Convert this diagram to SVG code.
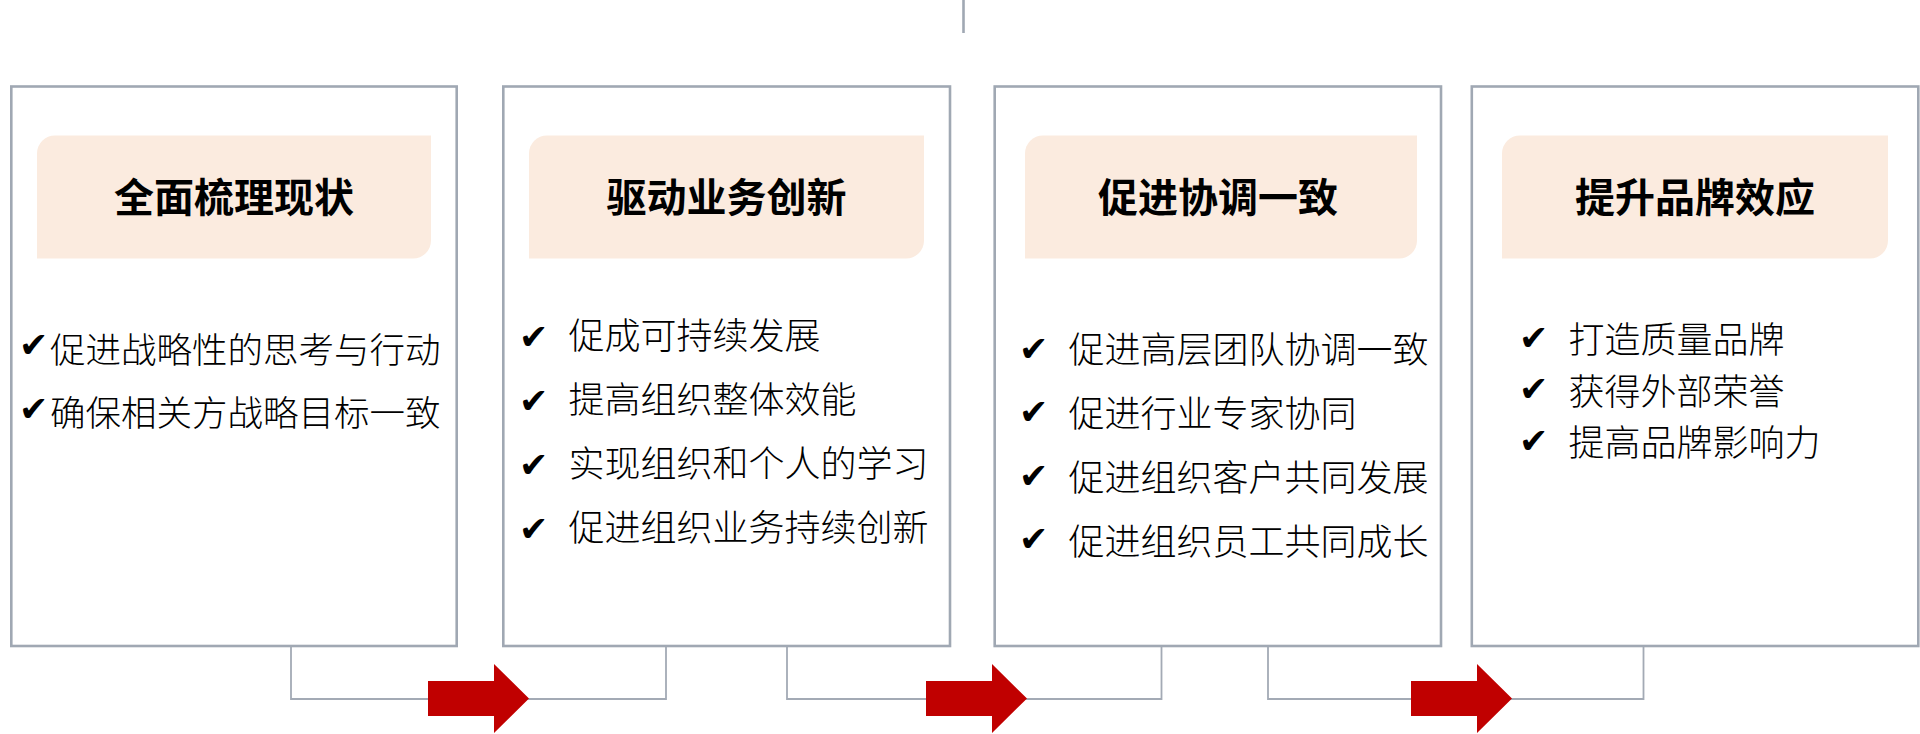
<svg xmlns="http://www.w3.org/2000/svg" width="1920" height="734" viewBox="0 0 1920 734">
<style>
.box{fill:#FFFFFF;stroke:#A0A8B3;stroke-width:2.6}
.band{fill:#FBEBDF}
.title{font-family:"Noto Sans CJK SC","Noto Sans",sans-serif;font-weight:700;font-size:40px;fill:#000;text-anchor:middle}
.item{font-family:"Noto Sans CJK SC","Noto Sans",sans-serif;font-weight:300;font-size:36px;fill:#000}
.chk{font-family:"DejaVu Sans",sans-serif;font-size:35px;fill:#000}
.conn{fill:none;stroke:#A3AAB5;stroke-width:1.8}
.arrow{fill:#C00000}
</style>
<rect width="1920" height="734" fill="#FFFFFF"/>
<line x1="963.5" y1="0" x2="963.5" y2="33" stroke="#A0A8B3" stroke-width="2.6"/>

<g id="connectors">
<path class="conn" d="M291,646 V699 H666 V646"/>
<path class="conn" d="M787,646 V699 H1161.5 V646"/>
<path class="conn" d="M1268,646 V699 H1643.5 V646"/>
<polygon class="arrow" points="428,681 494,681 494,664 529,698.5 494,733 494,716 428,716"/>
<polygon class="arrow" points="926,681 992,681 992,664 1027,698.5 992,733 992,716 926,716"/>
<polygon class="arrow" points="1411,681 1477,681 1477,664 1512,698.5 1477,733 1477,716 1411,716"/>
</g>

<g id="node1">
<rect class="box" x="11.3" y="86.5" width="445.4" height="559.5"/>
<path class="band" d="M55,135.5 H431 V240.5 A18,18 0 0 1 413,258.5 H37 V153.5 A18,18 0 0 1 55,135.5 Z"/>
<text class="title" x="234" y="212">全面梳理现状</text>
<text class="chk" x="19" y="357">✔</text>
<text class="item" x="50" y="362.5" style="font-size:35.5px">促进战略性的思考与行动</text>
<text class="chk" x="19" y="421">✔</text>
<text class="item" x="50" y="426" style="font-size:35.5px">确保相关方战略目标一致</text>
</g>

<g id="node2">
<rect class="box" x="503.3" y="86.5" width="446.7" height="559.5"/>
<path class="band" d="M547,135.5 H924 V240.5 A18,18 0 0 1 906,258.5 H529 V153.5 A18,18 0 0 1 547,135.5 Z"/>
<text class="title" x="726.5" y="212">驱动业务创新</text>
<text class="chk" x="519" y="348.5">✔</text>
<text class="item" x="568.5" y="349">促成可持续发展</text>
<text class="chk" x="519" y="412.5">✔</text>
<text class="item" x="568.5" y="413">提高组织整体效能</text>
<text class="chk" x="519" y="476.5">✔</text>
<text class="item" x="568.5" y="477">实现组织和个人的学习</text>
<text class="chk" x="519" y="540.5">✔</text>
<text class="item" x="568.5" y="541">促进组织业务持续创新</text>
</g>

<g id="node3">
<rect class="box" x="994.7" y="86.5" width="446.3" height="559.5"/>
<path class="band" d="M1043,135.5 H1417 V240.5 A18,18 0 0 1 1399,258.5 H1025 V153.5 A18,18 0 0 1 1043,135.5 Z"/>
<text class="title" x="1218" y="212">促进协调一致</text>
<text class="chk" x="1019" y="361">✔</text>
<text class="item" x="1068.5" y="363">促进高层团队协调一致</text>
<text class="chk" x="1019" y="424">✔</text>
<text class="item" x="1068.5" y="426.5">促进行业专家协同</text>
<text class="chk" x="1019" y="488">✔</text>
<text class="item" x="1068.5" y="491">促进组织客户共同发展</text>
<text class="chk" x="1019" y="551">✔</text>
<text class="item" x="1068.5" y="554.5">促进组织员工共同成长</text>
</g>

<g id="node4">
<rect class="box" x="1471.8" y="86.5" width="446.5" height="559.5"/>
<path class="band" d="M1520,135.5 H1888 V240.5 A18,18 0 0 1 1870,258.5 H1502 V153.5 A18,18 0 0 1 1520,135.5 Z"/>
<text class="title" x="1695" y="212">提升品牌效应</text>
<text class="chk" x="1519" y="349.5">✔</text>
<text class="item" x="1568.5" y="353">打造质量品牌</text>
<text class="chk" x="1519" y="401">✔</text>
<text class="item" x="1568.5" y="404.5">获得外部荣誉</text>
<text class="chk" x="1519" y="452.5">✔</text>
<text class="item" x="1568.5" y="456">提高品牌影响力</text>
</g>
</svg>
